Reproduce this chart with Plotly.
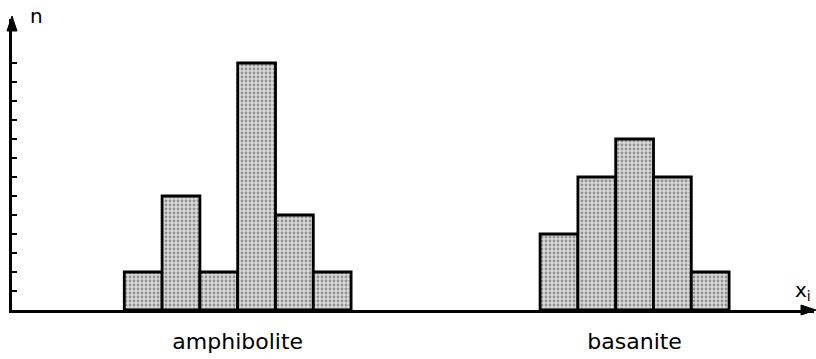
import plotly.graph_objects as go

# Data
amph_bins = [0, 1, 2, 3, 4, 5]
amph_counts = [2, 6, 2, 13, 5, 2]
bas_bins = [11, 12, 13, 14, 15]
bas_counts = [4, 7, 9, 7, 2]
group_centers = [2.5, 13]
group_labels = ["amphibolite", "basanite"]
y_ticks = list(range(1, 14))

FONT = "DejaVu Sans"

bar_style = dict(
    color="#d0d0d0",
    line=dict(color="black", width=2.8),
    pattern=dict(shape=".", fgcolor="#4a4a4a", bgcolor="#dadada", size=4, solidity=0.4),
)

fig = go.Figure()
fig.add_trace(go.Bar(x=amph_bins, y=amph_counts, width=1, marker=bar_style, showlegend=False))
fig.add_trace(go.Bar(x=bas_bins, y=bas_counts, width=1, marker=bar_style, showlegend=False))

arrow_common = dict(type="path", xref="paper", yref="paper",
                    xsizemode="pixel", ysizemode="pixel",
                    fillcolor="black", line=dict(color="black", width=1), layer="above")

fig.update_layout(
    width=816, height=359,
    margin=dict(l=12, r=2, t=19, b=49),
    paper_bgcolor="white", plot_bgcolor="white",
    font=dict(family=FONT, color="black"),
    xaxis=dict(
        range=[-3.471, 17.746],
        showline=True, linecolor="black", linewidth=2.5,
        showgrid=False, zeroline=False,
        tickmode="array", tickvals=group_centers, ticktext=group_labels,
        ticks="", tickfont=dict(size=22, family=FONT, color="black"),
        ticklabelstandoff=10,
    ),
    yaxis=dict(
        range=[0, 15.316],
        showline=True, linecolor="black", linewidth=2.5,
        showgrid=False, zeroline=False,
        tickmode="array", tickvals=y_ticks, showticklabels=False,
        ticks="inside", ticklen=5, tickwidth=2, tickcolor="black",
    ),
    shapes=[
        dict(xanchor=0, yanchor=1, path="M -5,-12 L 0,3 L 5,-12 Z", **arrow_common),
        dict(xanchor=1, yanchor=0, path="M -13,-5 L 2,0 L -13,5 Z", **arrow_common),
    ],
    annotations=[
        dict(x=0.031, y=1.01, xref="paper", yref="paper", text="n", showarrow=False,
             font=dict(size=20, family=FONT, color="black"), xanchor="center", yanchor="middle"),
        dict(x=0.986, y=0.065, xref="paper", yref="paper", text="x<sub>i</sub>", showarrow=False,
             font=dict(size=20, family=FONT, color="black"), xanchor="center", yanchor="middle"),
    ],
)

fig.write_html("out.html")
